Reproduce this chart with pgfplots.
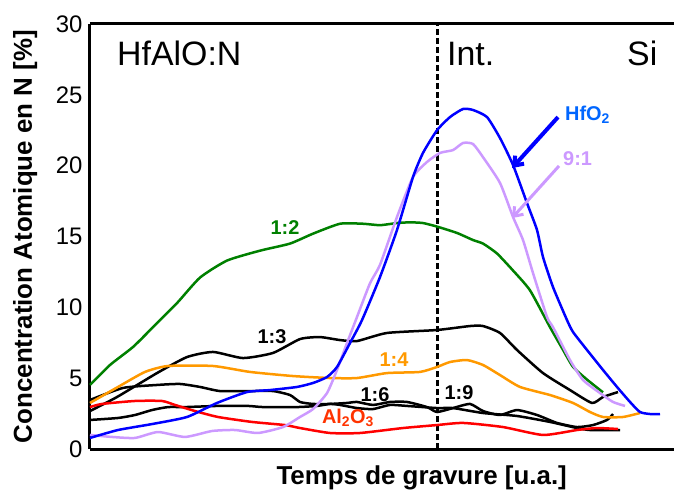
\documentclass[border=0pt]{standalone}
\usepackage{fontspec}
\setmainfont{Liberation Sans}
\usepackage{pgfplots}
\pgfplotsset{compat=1.18}
\usetikzlibrary{arrows.meta}

\definecolor{cgreen}{RGB}{0,128,0}
\definecolor{cblue}{RGB}{0,0,255}
\definecolor{clabblue}{RGB}{0,102,255}
\definecolor{clav}{RGB}{204,153,255}
\definecolor{corange}{RGB}{255,153,0}
\definecolor{cred}{RGB}{255,0,0}
\definecolor{clabred}{RGB}{255,51,0}

\begin{document}
\begin{tikzpicture}
\begin{axis}[
  name=ax,
  width=584bp, height=425bp, scale only axis,
  xmin=90, xmax=674, ymin=0, ymax=30,
  axis x line=bottom, axis y line=left,
  axis line style={-, line width=3bp},
  xtick=\empty, ytick={0,5,...,30},
  major tick length=0pt,
  ticklabel style={font=\fontsize{24}{28}\selectfont},
  /pgf/number format/assume math mode=true,
  yticklabel style={xshift=-4bp},
  ylabel={Concentration Atomique en N [\%]},
  xlabel={Temps de gravure [u.a.]},
  label style={font=\bfseries\fontsize{26}{30}\selectfont},
  ylabel style={at={(axis description cs:-0.111,0.5)}, anchor=center},
  xlabel style={at={(axis description cs:0.568,-0.068)}, anchor=center},
  clip=false,
  every axis plot/.append style={line width=2.5bp, line join=round, smooth, tension=0.35},
]

% interface
\draw[line width=3bp, dash pattern=on 6bp off 3bp] (axis cs:437,0) -- (axis cs:437,30);
\draw[line width=3bp] (rel axis cs:0,1) -- (rel axis cs:1,1);

% 1:2
\addplot[cgreen] coordinates {(90,4.52) (110,5.93) (133,7.2) (153,8.6) (177,10.3) (200,12.1) (227,13.3) (260,14.0) (290,14.5) (313,15.2) (340,15.9) (363,15.9) (380,15.8) (397,15.95) (410,16.0) (423,15.95) (437,15.7) (457,15.25) (473,14.75) (483,14.5) (497,13.8) (513,12.6) (530,11.2) (550,8.6) (563,7.0) (573,5.8) (587,4.9) (603,4.0)};

% 1:3
\addplot[black] coordinates {(90,2.68) (117,3.67) (157,5.36) (187,6.49) (213,6.85) (243,6.42) (273,6.78) (300,7.76) (320,7.9) (340,7.69) (357,7.62) (387,8.19) (437,8.4) (470,8.68) (483,8.68) (500,8.19) (517,6.99) (543,5.36) (570,4.16) (592,3.25) (603,3.67) (618,4.02)};

% 1:6
\addplot[black] coordinates {(90,3.46) (123,4.31) (157,4.52) (180,4.59) (200,4.38) (220,4.09) (250,4.09) (273,4.09) (290,3.81) (300,3.32) (313,3.18) (330,3.18) (347,3.25) (357,3.32) (373,3.11) (390,3.32) (407,3.32) (427,2.96) (437,2.61) (453,2.89) (470,3.18) (483,2.68) (500,2.40) (517,2.75) (537,2.40) (557,1.84) (577,1.55) (593,1.69) (607,2.05) (613,2.47)};

% 1:9
\addplot[black] coordinates {(90,2.05) (118,2.19) (135,2.40) (152,2.75) (168,2.96) (185,2.96) (218,3.04) (248,3.04) (263,2.96) (297,2.96) (317,3.04) (330,3.18) (340,3.11) (357,2.89) (373,2.82) (390,3.11) (407,3.04) (437,2.89) (453,2.89) (483,2.54) (517,2.33) (550,1.91) (577,1.48) (590,1.34) (620,1.34)};

% Al2O3
\addplot[cred] coordinates {(90,2.96) (102,3.18) (135,3.39) (162,3.39) (175,3.11) (195,2.68) (218,2.26) (252,1.91) (285,1.69) (300,1.48) (330,1.13) (360,1.13) (403,1.48) (437,1.69) (463,1.84) (503,1.55) (543,0.99) (577,1.34) (597,1.48) (618,1.41)};

% 1:4
\addplot[corange] coordinates {(90,3.25) (118,4.38) (145,5.44) (168,5.86) (213,5.86) (250,5.44) (293,5.15) (330,5.01) (357,5.01) (387,5.36) (420,5.44) (437,5.79) (450,6.14) (467,6.28) (483,5.93) (500,5.22) (520,4.38) (550,3.81) (573,3.25) (590,2.61) (603,2.26) (623,2.26) (640,2.54)};

% 9:1
\addplot[clav] coordinates {(90,0.99) (112,0.85) (135,0.78) (158,1.2) (185,0.85) (212,1.27) (235,1.34) (258,1.13) (283,1.55) (300,2.26) (313,2.82) (327,3.95) (337,5.58) (347,7.48) (357,9.32) (370,11.7) (380,13.0) (397,16.38) (413,19.2) (427,20.26) (440,20.9) (453,21.1) (463,21.6) (473,21.53) (483,20.6) (500,18.78) (513,16.38) (523,14.75) (533,12.42) (547,9.32) (553,8.6) (570,6.28) (583,4.87) (600,3.95) (613,3.32) (625,3.04)};

% HfO2
\addplot[cblue] coordinates {(90,0.78) (118,1.34) (152,1.76) (187,2.26) (217,3.25) (247,4.02) (270,4.16) (297,4.38) (313,4.66) (327,5.08) (337,5.79) (350,7.48) (362,9.1) (380,12.14) (397,15.46) (413,19.2) (423,20.9) (437,22.5) (450,23.43) (463,24.0) (473,23.93) (487,23.43) (500,21.95) (513,20.05) (527,17.36) (537,15.46) (543,13.55) (553,11.43) (567,9.1) (573,8.26) (587,6.99) (603,5.58) (617,4.38) (630,3.32) (640,2.61) (650,2.47) (660,2.47)};

% arrows
\draw[cblue, line width=4bp, -{Straight Barb[length=8bp, width=12bp]}] (axis cs:558,23.43) -- (axis cs:512,19.83);
\draw[clav, line width=3bp, -{Straight Barb[length=8bp, width=12bp]}] (axis cs:559,19.98) -- (axis cs:512,16.3);

% region labels
\node[anchor=base west, font=\fontsize{34}{38}\selectfont, inner sep=0pt] at (axis cs:117,27.05) {HfAlO:N};
\node[anchor=base west, font=\fontsize{34}{38}\selectfont, inner sep=0pt] at (axis cs:447,27.05) {Int.};
\node[anchor=base west, font=\fontsize{34}{38}\selectfont, inner sep=0pt] at (axis cs:627,27.05) {Si};

% series labels
\begin{scope}[every node/.style={font=\bfseries\fontsize{20}{24}\selectfont, inner sep=0pt}]
\node[cgreen] at (axis cs:285,15.6) {1:2};
\node[clabblue, anchor=west] at (axis cs:565,23.6) {HfO\textsubscript{2}};
\node[clav, anchor=west] at (axis cs:563,20.5) {9:1};
\node[black] at (axis cs:272,7.9) {1:3};
\node[corange] at (axis cs:394,6.28) {1:4};
\node[black] at (axis cs:375,3.81) {1:6};
\node[black] at (axis cs:459,3.95) {1:9};
\node[clabred] at (axis cs:348,2.2) {Al\textsubscript{2}O\textsubscript{3}};
\end{scope}
\end{axis}
\pgfresetboundingbox
\path ([shift={(-90bp,-45bp)}]ax.south west) rectangle ([shift={(0bp,24bp)}]ax.north east);
\end{tikzpicture}
\end{document}
